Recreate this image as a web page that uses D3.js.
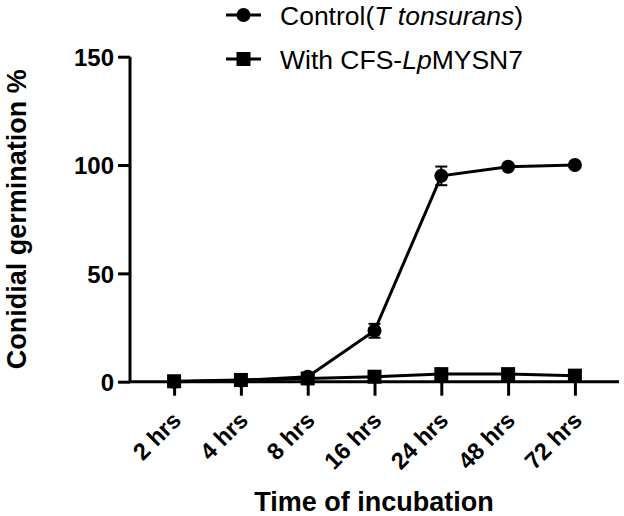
<!DOCTYPE html>
<html>
<head>
<meta charset="utf-8">
<script src="https://cdn.jsdelivr.net/npm/d3@7"></script>
<style>
  html, body { margin: 0; padding: 0; background: #fff; }
  svg { display: block; font-family: Arial, 'Liberation Sans', sans-serif; }
</style>
</head>
<body>
<div id="chart"></div>
<script>
const categories = ['2 hrs', '4 hrs', '8 hrs', '16 hrs', '24 hrs', '48 hrs', '72 hrs'];
const controlMean = [0, 0.5, 2.3, 23.5, 95, 99.2, 100];
const controlSd = [0, 0.3, 0.8, 3.2, 4.3, 0.6, 0.3];
const cfsMean = [0.2, 0.8, 1.5, 2.3, 3.5, 3.5, 2.8];
const cfsSd = [0.1, 0.3, 0.5, 0.6, 0.8, 0.8, 0.6];
const yTicks = [0, 50, 100, 150];

const width = 624;
const height = 516;

const svg = d3.select('#chart').append('svg')
  .attr('width', width)
  .attr('height', height);

const x = d3.scalePoint()
  .domain(categories)
  .range([130, 619])
  .padding(0.66);

const y = d3.scaleLinear()
  .domain([0, 150])
  .range([381.7, 56.7]);

// axes
const yAxis = svg.append('g')
  .attr('transform', 'translate(130,0)')
  .call(d3.axisLeft(y).tickValues(yTicks).tickSize(12).tickPadding(4));

const xAxis = svg.append('g')
  .attr('transform', `translate(0,${y(0)})`)
  .call(d3.axisBottom(x).tickSize(14));

[yAxis, xAxis].forEach(g => {
  g.select('.domain').attr('stroke', '#000').attr('stroke-width', 3);
  g.selectAll('.tick line').attr('stroke', '#000').attr('stroke-width', 3);
});
yAxis.select('.domain').attr('d', `M0,${y(150)}V${y(0)}`);
xAxis.select('.domain').attr('d', 'M130,0H619');

yAxis.selectAll('.tick text')
  .attr('font-size', 24)
  .attr('font-weight', 'bold')
  .attr('fill', '#000')
  .attr('dy', '0.36em');

xAxis.selectAll('.tick text')
  .attr('font-size', 23.5)
  .attr('font-weight', 'bold')
  .attr('fill', '#000')
  .attr('text-anchor', 'end')
  .attr('x', 0)
  .attr('y', 0)
  .attr('dy', '0.3em')
  .attr('transform', 'translate(3,35) rotate(-45)');

// axis titles
svg.append('text')
  .attr('x', 374)
  .attr('y', 511)
  .attr('text-anchor', 'middle')
  .attr('font-size', 27)
  .attr('font-weight', 'bold')
  .text('Time of incubation');

svg.append('text')
  .attr('transform', `translate(26,${(y(0) + y(150)) / 2}) rotate(-90)`)
  .attr('text-anchor', 'middle')
  .attr('font-size', 27)
  .attr('font-weight', 'bold')
  .text('Conidial germination %');

// series
const series = [
  { mean: controlMean, sd: controlSd, shape: 'circle' },
  { mean: cfsMean, sd: cfsSd, shape: 'square' }
];

const line = d3.line()
  .x((d, i) => x(categories[i]))
  .y(d => y(d));

series.forEach(s => {
  const g = svg.append('g');

  g.append('path')
    .datum(s.mean)
    .attr('fill', 'none')
    .attr('stroke', '#000')
    .attr('stroke-width', 3)
    .attr('d', line);

  const bars = g.selectAll('g.err')
    .data(s.mean.map((m, i) => ({ cat: categories[i], m, sd: s.sd[i] })))
    .enter().append('g')
    .attr('class', 'err');

  bars.append('line')
    .attr('x1', d => x(d.cat)).attr('x2', d => x(d.cat))
    .attr('y1', d => y(d.m + d.sd)).attr('y2', d => y(d.m - d.sd))
    .attr('stroke', '#000').attr('stroke-width', 2);
  [1, -1].forEach(sign => {
    bars.append('line')
      .attr('x1', d => x(d.cat) - 6).attr('x2', d => x(d.cat) + 6)
      .attr('y1', d => y(d.m + sign * d.sd)).attr('y2', d => y(d.m + sign * d.sd))
      .attr('stroke', '#000').attr('stroke-width', 2);
  });

  if (s.shape === 'circle') {
    g.selectAll('circle')
      .data(s.mean)
      .enter().append('circle')
      .attr('cx', (d, i) => x(categories[i]))
      .attr('cy', d => y(d))
      .attr('r', 7)
      .attr('fill', '#000');
  } else {
    g.selectAll('rect')
      .data(s.mean)
      .enter().append('rect')
      .attr('x', (d, i) => x(categories[i]) - 7)
      .attr('y', d => y(d) - 7)
      .attr('width', 14)
      .attr('height', 14)
      .attr('fill', '#000');
  }
});

// legend
const legend = svg.append('g');
const rows = [
  { y: 15, shape: 'circle', parts: [['Control(', 'normal'], ['T tonsurans', 'italic'], [')', 'normal']] },
  { y: 59, shape: 'square', parts: [['With CFS-', 'normal'], ['Lp', 'italic'], ['MYSN7', 'normal']] }
];

rows.forEach(r => {
  legend.append('line')
    .attr('x1', 226).attr('x2', 261)
    .attr('y1', r.y).attr('y2', r.y)
    .attr('stroke', '#000').attr('stroke-width', 3);
  if (r.shape === 'circle') {
    legend.append('circle').attr('cx', 243.5).attr('cy', r.y).attr('r', 7).attr('fill', '#000');
  } else {
    legend.append('rect').attr('x', 236.5).attr('y', r.y - 7).attr('width', 14).attr('height', 14).attr('fill', '#000');
  }
  const t = legend.append('text')
    .attr('x', 280)
    .attr('y', r.y + 9.5)
    .attr('font-size', 26.5);
  r.parts.forEach(p => t.append('tspan').attr('font-style', p[1]).text(p[0]));
});
</script>
</body>
</html>
